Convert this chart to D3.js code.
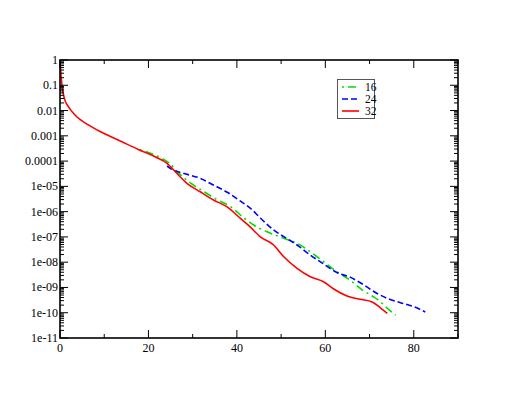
<!DOCTYPE html>
<html>
<head>
<meta charset="utf-8">
<script src="https://cdn.jsdelivr.net/npm/d3@7"></script>
<style>
  body { margin: 0; background: #fff; }
  text { font-family: "Liberation Serif", "Times New Roman", serif; font-size: 12px; fill: #000; }
</style>
</head>
<body>
<div id="chart"></div>
<script>
// data (x, value)
var xs16 = [18.1, 20.0, 22.6, 24.9, 26.4, 29.4, 32.4, 35.5, 38.5, 41.5, 43.8, 46.8, 50.6, 53.6, 56.6, 59.6, 62.6, 65.7, 68.4, 70.6, 72.5, 74.0, 75.9]
var ys16 = [2.8e-4, 2.2e-4, 1.4e-4, 7.8e-5, 4.0e-5, 1.4e-5, 6.4e-6, 3.0e-6, 1.6e-6, 5.8e-7, 2.95e-7, 1.6e-7, 8.8e-8, 5.6e-8, 2.6e-8, 1.04e-8, 4.2e-9, 1.88e-9, 7.9e-10, 4.6e-10, 2.7e-10, 1.5e-10, 8.1e-11]

var xs24 = [24.2, 25.3, 27.9, 31.7, 34.7, 37.7, 40.8, 43.0, 45.3, 48.3, 50.6, 53.6, 56.6, 59.6, 62.6, 65.7, 67.9, 71.7, 74.0, 77.0, 80.0, 82.6]
var ys24 = [6.4e-5, 4.7e-5, 3.3e-5, 2.08e-5, 1.13e-5, 6.0e-6, 2.6e-6, 1.39e-6, 5.6e-7, 1.88e-7, 1.02e-7, 4.8e-8, 1.92e-8, 8.5e-9, 3.9e-9, 2.5e-9, 1.54e-9, 5.8e-10, 3.7e-10, 2.5e-10, 1.73e-10, 1.07e-10]

var xs32 = [0, 0.23, 0.52, 0.97, 1.9, 3.4, 6.4, 9.4, 14.0, 17.7, 21.5, 24.2, 26.4, 28.7, 31.7, 34.7, 37.7, 40.8, 43.0, 45.3, 48.3, 50.6, 53.6, 56.6, 59.6, 61.9, 64.9, 67.9, 70.6, 72.5, 74.0]
var ys32 = [1, 0.25, 0.078, 0.031, 0.0142, 0.0067, 0.0027, 0.00138, 5.8e-4, 2.9e-4, 1.49e-4, 8.2e-5, 3.3e-5, 1.32e-5, 6.1e-6, 2.9e-6, 1.57e-6, 5.4e-7, 2.5e-7, 1.0e-7, 4.8e-8, 1.64e-8, 5.7e-9, 2.66e-9, 1.69e-9, 8.7e-10, 4.6e-10, 3.4e-10, 2.65e-10, 1.53e-10, 9.5e-11]

var seriesNames = ["16", "24", "32"]
var seriesColors = ["#00e000", "#0000ff", "#ff0000"]
var seriesDash = ["2,4,8,4", "6,3", null]

var xTicks = [0, 20, 40, 60, 80]
var yTickLabels = ["1", "0.1", "0.01", "0.001", "0.0001", "1e-05", "1e-06", "1e-07", "1e-08", "1e-09", "1e-10", "1e-11"]

var width = 515, height = 398
var pl = 60, pr = 458, pt = 60, pb = 338

var svg = d3.select("#chart").append("svg")
    .attr("width", width)
    .attr("height", height)

var x = d3.scaleLinear().domain([0, 90]).range([pl, pr])
var y = d3.scaleLog().domain([1e-11, 1]).range([pb, pt])

var all = [[xs16, ys16], [xs24, ys24], [xs32, ys32]]

var line = d3.line()
    .x(function(d) { return x(d[0]) })
    .y(function(d) { return y(d[1]) })
    .curve(d3.curveMonotoneX)

var plot = svg.append("g")
all.forEach(function(s, i) {
  var pts = s[0].map(function(v, j) { return [v, s[1][j]] })
  plot.append("path")
    .attr("d", line(pts))
    .attr("fill", "none")
    .attr("stroke", seriesColors[i])
    .attr("stroke-width", 1.6)
    .attr("stroke-dasharray", seriesDash[i])
})

// axes: ticks inward on all four sides
var ax = svg.append("g")
var majX = d3.range(0, 91, 20), minX = d3.range(10, 91, 20)
majX.forEach(function(v) {
  ax.append("line").attr("x1", x(v)).attr("x2", x(v)).attr("y1", pb).attr("y2", pb - 8)
  ax.append("line").attr("x1", x(v)).attr("x2", x(v)).attr("y1", pt).attr("y2", pt + 8)
})
minX.forEach(function(v) {
  ax.append("line").attr("x1", x(v)).attr("x2", x(v)).attr("y1", pb).attr("y2", pb - 4)
  ax.append("line").attr("x1", x(v)).attr("x2", x(v)).attr("y1", pt).attr("y2", pt + 4)
})
for (var e = -11; e <= 0; e++) {
  var v = Math.pow(10, e)
  ax.append("line").attr("x1", pl).attr("x2", pl + 8).attr("y1", y(v)).attr("y2", y(v))
  ax.append("line").attr("x1", pr).attr("x2", pr - 8).attr("y1", y(v)).attr("y2", y(v))
  if (e < 0) {
    for (var m = 2; m <= 9; m++) {
      var mv = m * v
      ax.append("line").attr("x1", pl).attr("x2", pl + 4).attr("y1", y(mv)).attr("y2", y(mv))
      ax.append("line").attr("x1", pr).attr("x2", pr - 4).attr("y1", y(mv)).attr("y2", y(mv))
    }
  }
}
ax.selectAll("line").attr("stroke", "#000").attr("stroke-width", 1)

svg.append("rect")
    .attr("x", pl).attr("y", pt)
    .attr("width", pr - pl).attr("height", pb - pt)
    .attr("fill", "none").attr("stroke", "#000").attr("stroke-width", 1.6)

svg.selectAll(".xl").data(xTicks).enter().append("text")
    .attr("x", function(d) { return x(d) })
    .attr("y", pb + 14)
    .attr("text-anchor", "middle")
    .text(function(d) { return d })

svg.selectAll(".yl").data(yTickLabels).enter().append("text")
    .attr("x", pl - 2)
    .attr("y", function(d, i) { return y(Math.pow(10, -i)) + 4 })
    .attr("text-anchor", "end")
    .text(function(d) { return d })

// legend
var lg = svg.append("g")
lg.append("rect")
    .attr("x", 337.5).attr("y", 79.5).attr("width", 37).attr("height", 39)
    .attr("fill", "#fff").attr("stroke", "#555").attr("stroke-width", 1)
seriesNames.forEach(function(n, i) {
  var yy = 87 + i * 12
  lg.append("line")
    .attr("x1", 342).attr("x2", 359).attr("y1", yy).attr("y2", yy)
    .attr("stroke", seriesColors[i]).attr("stroke-width", 1.6)
    .attr("stroke-dasharray", seriesDash[i])
  lg.append("text").attr("x", 365).attr("y", yy + 4).style("font-size", "11.5px").text(n)
})
</script>
</body>
</html>
